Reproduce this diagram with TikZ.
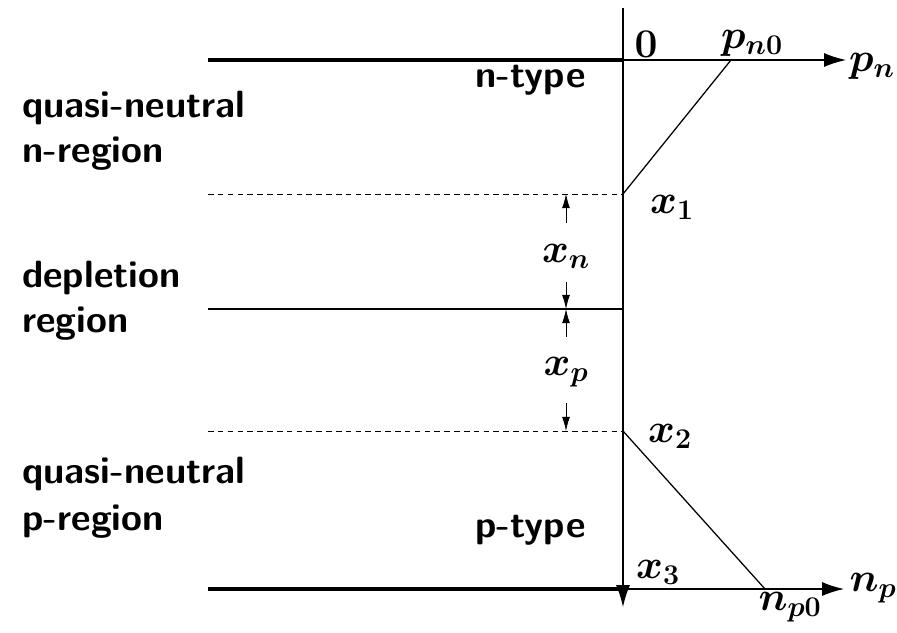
\RequirePackage{fix-cm}
\documentclass[tikz,border=0pt]{standalone}
\usepackage{amsmath, amssymb}
\usepackage{tikz}
\usetikzlibrary{positioning, arrows.meta}

\tikzset{
  regiontext/.style={font=\fontsize{27}{32}\selectfont\sffamily\bfseries, anchor=base west, inner sep=0pt},
  symb/.style={font=\fontsize{29}{34}\selectfont, inner sep=0pt},
  contact/.style={line width=2.6pt},
  axis/.style={line width=1pt, -{Latex[length=15.6pt, width=10pt]}},
  edge/.style={line width=0.9pt},
  dimarrow/.style={line width=0.6pt, -{Latex[length=10pt, width=5.6pt]}},
  bound/.style={line width=0.7pt, dash pattern=on 4pt off 3pt}
}

\begin{document}
\begin{tikzpicture}[x=0.025cm, y=-0.025cm]
  \useasboundingbox (0,0) rectangle (897,633);
  % junction and contacts
  \coordinate (jtop) at (623,8);
  \coordinate (jbot) at (623,607);
  \coordinate (ncontact) at (208,60);
  \coordinate (norig) at (623,60);
  \coordinate (nend) at (846,60);
  \coordinate (pcontact) at (208,589);
  \coordinate (porig) at (623,589);
  \coordinate (pend) at (844,589);
  \coordinate (xa) at (623,194);
  \coordinate (xb) at (623,431);
  \coordinate (mid) at (623,309);
  \coordinate (pn0) at (731,60);
  \coordinate (np0) at (765,589);

  \draw[axis] (jtop) -- (jbot);
  \draw[contact] (ncontact) -- (norig);
  \draw[contact] (pcontact) -- (porig);
  \draw[axis] (norig) -- (nend);
  \draw[axis] (porig) -- (pend);

  % region boundaries
  \draw[bound] (208,194) -- (xa);
  \draw[edge] (208,309) -- (mid);
  \draw[bound] (208,431) -- (xb);

  % carrier profiles
  \draw[edge] (xa) -- (pn0);
  \draw[edge] (xb) -- (np0);

  % widths
  \coordinate (dxa) at (566,194);
  \coordinate (dmid) at (566,309);
  \coordinate (dxb) at (566,431);
  \draw[dimarrow] (566,223) -- (dxa);
  \draw[dimarrow] (566,282) -- (dmid);
  \draw[dimarrow] (566,337) -- (dmid);
  \draw[dimarrow] (566,403) -- (dxb);
  \node[symb] (xn) at (566,256) {$\boldsymbol{x_n}$};
  \node[symb] (xp) at (566,372) {$\boldsymbol{x_p}$};

  % labels
  \node[symb] (zero) at (646,44) {$\mathbf{0}$};
  \node[symb] (pn0lab) at (752,43) {$\boldsymbol{p_{n0}}$};
  \node[symb] (pnlab) at (872,66) {$\boldsymbol{p_n}$};
  \node[symb] (x1lab) at (672,207) {$\boldsymbol{x_1}$};
  \node[symb] (x2lab) at (670,436) {$\boldsymbol{x_2}$};
  \node[symb] (x3lab) at (658,572) {$\boldsymbol{x_3}$};
  \node[symb] (np0lab) at (790,607) {$\boldsymbol{n_{p0}}$};
  \node[symb] (nplab) at (873,588) {$\boldsymbol{n_p}$};

  \node[regiontext] (ntype) at (475,87) {n-type};
  \node[regiontext] (ptype) at (475,537) {p-type};
  \node[regiontext] (qn1) at (22,117) {quasi-neutral};
  \node[regiontext] (qn2) at (22,162) {n-region};
  \node[regiontext] (dep1) at (22,287) {depletion};
  \node[regiontext] (dep2) at (22,332) {region};
  \node[regiontext] (qp1) at (22,483) {quasi-neutral};
  \node[regiontext] (qp2) at (22,530) {p-region};
\end{tikzpicture}
\end{document}
